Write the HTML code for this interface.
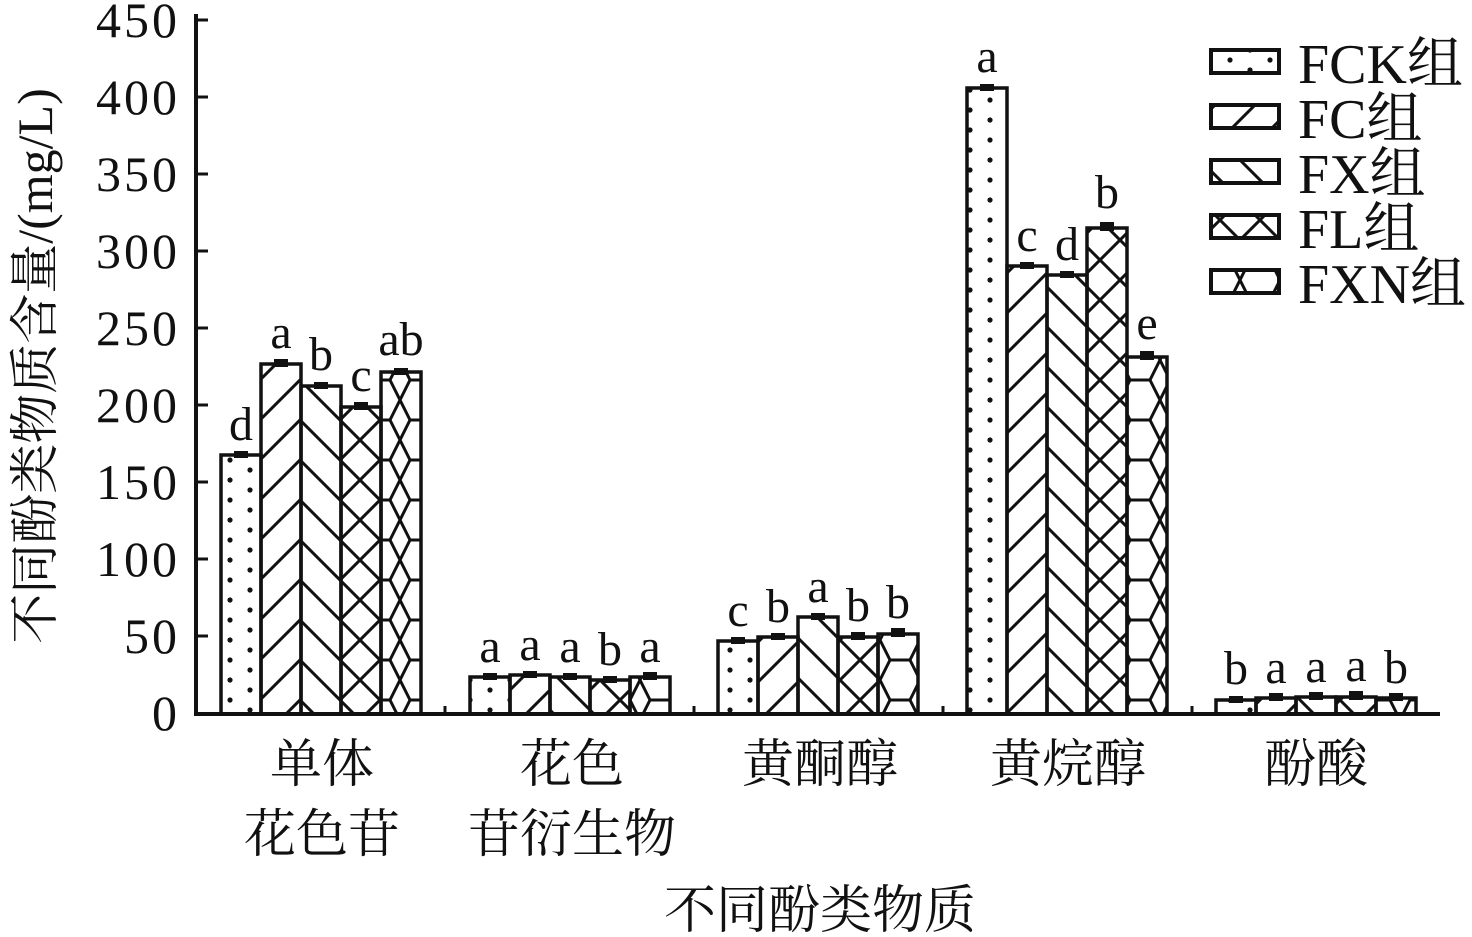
<!DOCTYPE html>
<html><head><meta charset="utf-8"><style>
html,body{margin:0;padding:0;background:#fff;}
svg{display:block;}
.t{font-family:"Liberation Serif","Noto Serif CJK SC",serif;fill:#111;}
.b{stroke:#111;stroke-width:3.5;}
</style></head><body>
<svg width="1472" height="937" viewBox="0 0 1472 937" xmlns="http://www.w3.org/2000/svg">
<defs>
<pattern id="pDot" width="40" height="20" patternUnits="userSpaceOnUse">
<circle cx="10" cy="10" r="2.6" fill="#111"/><circle cx="30" cy="0" r="2.6" fill="#111"/><circle cx="30" cy="20" r="2.6" fill="#111"/>
</pattern>
<pattern id="pFC" width="40" height="40" patternUnits="userSpaceOnUse">
<path d="M0 40 L40 0 M-10 10 L10 -10 M30 50 L50 30" stroke="#111" stroke-width="3"/>
</pattern>
<pattern id="pFX" width="40" height="40" patternUnits="userSpaceOnUse">
<path d="M0 0 L40 40 M-10 30 L10 50 M30 -10 L50 10" stroke="#111" stroke-width="3"/>
</pattern>
<pattern id="pFL" width="40" height="40" patternUnits="userSpaceOnUse">
<path d="M0 0 L40 40 M40 0 L0 40" stroke="#111" stroke-width="3"/>
</pattern>
<pattern id="pHex" width="40" height="40" patternUnits="userSpaceOnUse">
<path d="M0 0 L10 20 L0 40 M40 0 L30 20 L40 40 M10 20 L30 20" stroke="#111" stroke-width="3" fill="none"/>
</pattern>
</defs>
<g class="b">
<rect x="221" y="455" width="40" height="259" fill="url(#pDot)"/>
<rect x="261" y="364" width="40" height="350" fill="url(#pFC)"/>
<rect x="301" y="386" width="40" height="328" fill="url(#pFX)"/>
<rect x="341" y="407" width="40" height="307" fill="url(#pFL)"/>
<rect x="381" y="372" width="40" height="342" fill="url(#pHex)"/>
<rect x="470" y="677" width="40" height="37" fill="url(#pDot)"/>
<rect x="510" y="675" width="40" height="39" fill="url(#pFC)"/>
<rect x="550" y="677" width="40" height="37" fill="url(#pFX)"/>
<rect x="590" y="680" width="40" height="34" fill="url(#pFL)"/>
<rect x="630" y="677" width="40" height="37" fill="url(#pHex)"/>
<rect x="718" y="641" width="40" height="73" fill="url(#pDot)"/>
<rect x="758" y="637" width="40" height="77" fill="url(#pFC)"/>
<rect x="798" y="617" width="40" height="97" fill="url(#pFX)"/>
<rect x="838" y="637" width="40" height="77" fill="url(#pFL)"/>
<rect x="878" y="634" width="40" height="80" fill="url(#pHex)"/>
<rect x="967" y="88" width="40" height="626" fill="url(#pDot)"/>
<rect x="1007" y="266" width="40" height="448" fill="url(#pFC)"/>
<rect x="1047" y="275" width="40" height="439" fill="url(#pFX)"/>
<rect x="1087" y="228" width="40" height="486" fill="url(#pFL)"/>
<rect x="1127" y="357" width="40" height="357" fill="url(#pHex)"/>
<rect x="1216" y="700" width="40" height="14" fill="url(#pDot)"/>
<rect x="1256" y="698" width="40" height="16" fill="url(#pFC)"/>
<rect x="1296" y="697" width="40" height="17" fill="url(#pFX)"/>
<rect x="1336" y="697" width="40" height="17" fill="url(#pFL)"/>
<rect x="1376" y="698" width="40" height="16" fill="url(#pHex)"/>
</g>
<g fill="#111">
<rect x="234" y="451" width="14" height="7"/><rect x="274" y="359" width="14" height="8"/><rect x="314" y="382" width="14" height="7"/><rect x="354" y="402" width="14" height="8"/><rect x="394" y="368" width="14" height="7"/>
<rect x="483" y="673" width="14" height="7"/><rect x="523" y="671" width="14" height="7"/><rect x="563" y="673" width="14" height="7"/><rect x="603" y="676" width="14" height="7"/><rect x="643" y="672" width="14" height="8"/>
<rect x="731" y="637" width="14" height="7"/><rect x="771" y="633" width="14" height="7"/><rect x="811" y="613" width="14" height="7"/><rect x="851" y="632" width="14" height="8"/><rect x="891" y="628" width="14" height="9"/>
<rect x="980" y="84" width="14" height="7"/><rect x="1020" y="262" width="14" height="7"/><rect x="1060" y="271" width="14" height="7"/><rect x="1100" y="222" width="14" height="9"/><rect x="1140" y="351" width="14" height="9"/>
<rect x="1229" y="696" width="14" height="7"/><rect x="1269" y="693" width="14" height="8"/><rect x="1309" y="692" width="14" height="8"/><rect x="1349" y="691" width="14" height="9"/><rect x="1389" y="693" width="14" height="8"/>
</g>
<g class="t" font-size="48" text-anchor="middle">
<text x="241" y="440">d</text><text x="281" y="348">a</text><text x="321" y="370">b</text><text x="361" y="391">c</text><text x="401" y="355">ab</text>
<text x="490" y="662">a</text><text x="530" y="660">a</text><text x="570" y="662">a</text><text x="610" y="665">b</text><text x="650" y="662">a</text>
<text x="738" y="626">c</text><text x="778" y="622">b</text><text x="818" y="602">a</text><text x="858" y="621">b</text><text x="898" y="618">b</text>
<text x="987" y="72">a</text><text x="1027" y="251">c</text><text x="1067" y="260">d</text><text x="1107" y="208">b</text><text x="1147" y="339">e</text>
<text x="1236" y="684">b</text><text x="1276" y="683">a</text><text x="1316" y="682">a</text><text x="1356" y="681">a</text><text x="1396" y="683">b</text>
</g>
<path d="M196 14 V714 H1440" stroke="#111" stroke-width="4" fill="none"/>
<g stroke="#111" stroke-width="3">
<line x1="196" y1="20" x2="208" y2="20"/><line x1="196" y1="97" x2="208" y2="97"/>
<line x1="196" y1="174" x2="208" y2="174"/><line x1="196" y1="251" x2="208" y2="251"/>
<line x1="196" y1="328" x2="208" y2="328"/><line x1="196" y1="405" x2="208" y2="405"/>
<line x1="196" y1="482" x2="208" y2="482"/><line x1="196" y1="559" x2="208" y2="559"/>
<line x1="196" y1="636" x2="208" y2="636"/>
<line x1="445" y1="714" x2="445" y2="706"/><line x1="694" y1="714" x2="694" y2="706"/>
<line x1="943" y1="714" x2="943" y2="706"/><line x1="1192" y1="714" x2="1192" y2="706"/>
</g>
<g class="t" font-size="50" letter-spacing="3" text-anchor="end">
<text x="180" y="37">450</text><text x="180" y="114">400</text><text x="180" y="191">350</text>
<text x="180" y="268">300</text><text x="180" y="345">250</text><text x="180" y="422">200</text>
<text x="180" y="499">150</text><text x="180" y="576">100</text><text x="180" y="653">50</text>
<text x="180" y="730">0</text>
</g>
<text class="t" font-size="50" text-anchor="middle" transform="translate(52,366) rotate(-90)">不同酚类物质含量/(mg/L)</text>
<g class="t" font-size="52" text-anchor="middle">
<text x="322" y="782">单体</text><text x="322" y="852">花色苷</text>
<text x="572" y="782">花色</text><text x="572" y="852">苷衍生物</text>
<text x="820" y="782">黄酮醇</text><text x="1068" y="782">黄烷醇</text><text x="1316" y="782">酚酸</text>
<text x="820" y="928">不同酚类物质</text>
</g>
<g stroke="#111" stroke-width="4">
<rect x="1211" y="50" width="68" height="23" fill="url(#pDot)"/>
<rect x="1211" y="105" width="68" height="23" fill="url(#pFC)"/>
<rect x="1211" y="160" width="68" height="23" fill="url(#pFX)"/>
<rect x="1211" y="215" width="68" height="23" fill="url(#pFL)"/>
<rect x="1211" y="270" width="68" height="23" fill="url(#pHex)"/>
</g>
<g class="t" font-size="56">
<text x="1298" y="83">FCK组</text><text x="1298" y="138">FC组</text><text x="1298" y="193">FX组</text>
<text x="1298" y="248">FL组</text><text x="1298" y="303">FXN组</text>
</g>
</svg>
</body></html>
